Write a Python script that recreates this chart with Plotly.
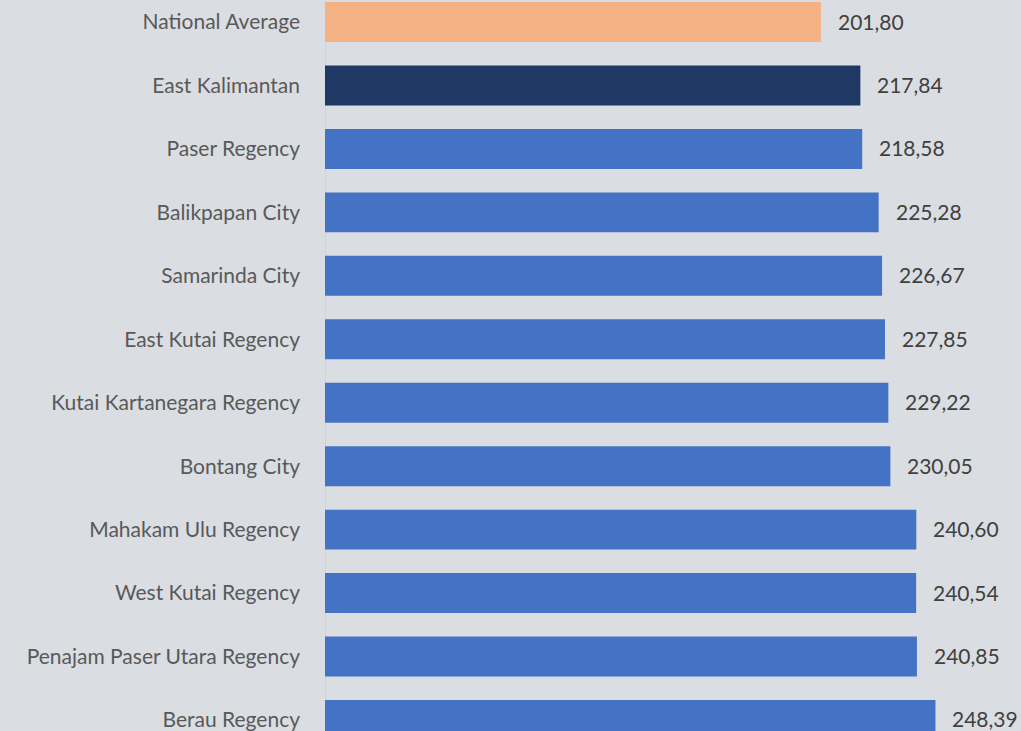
import plotly.graph_objects as go

# Category names, top to bottom
regions = [
    "National Average",
    "East Kalimantan",
    "Paser Regency",
    "Balikpapan City",
    "Samarinda City",
    "East Kutai Regency",
    "Kutai Kartanegara Regency",
    "Bontang City",
    "Mahakam Ulu Regency",
    "West Kutai Regency",
    "Penajam Paser Utara Regency",
    "Berau Regency",
]
values = [201.80, 217.84, 218.58, 225.28, 226.67, 227.85,
          229.22, 230.05, 240.60, 240.54, 240.85, 248.39]

ORANGE = "#f4b183"
NAVY = "#1f3864"
BLUE = "#4472c4"
colors = [ORANGE, NAVY] + [BLUE] * (len(regions) - 2)

BG = "#dadde1"
FONT = "Lato, 'Open Sans', sans-serif"

fig = go.Figure(
    go.Bar(
        x=values,
        y=regions,
        orientation="h",
        marker=dict(color=colors, line=dict(width=0)),
        width=0.63,
        hoverinfo="x+y",
    )
)

# value labels to the right of each bar, comma as decimal separator
for name, v in zip(regions, values):
    fig.add_annotation(
        x=v, y=name, text=f"{v:.2f}".replace(".", ","),
        xanchor="left", yanchor="middle", showarrow=False,
        xshift=15, yshift=1,
        font=dict(family=FONT, size=21, color="#404040"),
    )

fig.update_layout(
    width=1021, height=731,
    margin=dict(l=325, r=0, t=0, b=0),
    paper_bgcolor=BG, plot_bgcolor=BG,
    showlegend=False,
    bargap=0.37,
)
fig.update_xaxes(
    range=[0, 283.2], visible=True, showticklabels=False, showgrid=False,
    zeroline=True, zerolinecolor="#d5d3d1", zerolinewidth=1, ticks="",
)
fig.update_yaxes(
    categoryorder="array", categoryarray=regions,
    range=[11.174, -0.347],
    showgrid=False, zeroline=False, showline=False, ticks="",
    ticklabelstandoff=24,
    tickfont=dict(family=FONT, size=21, color="#595959"),
)

fig.write_html("out.html")
